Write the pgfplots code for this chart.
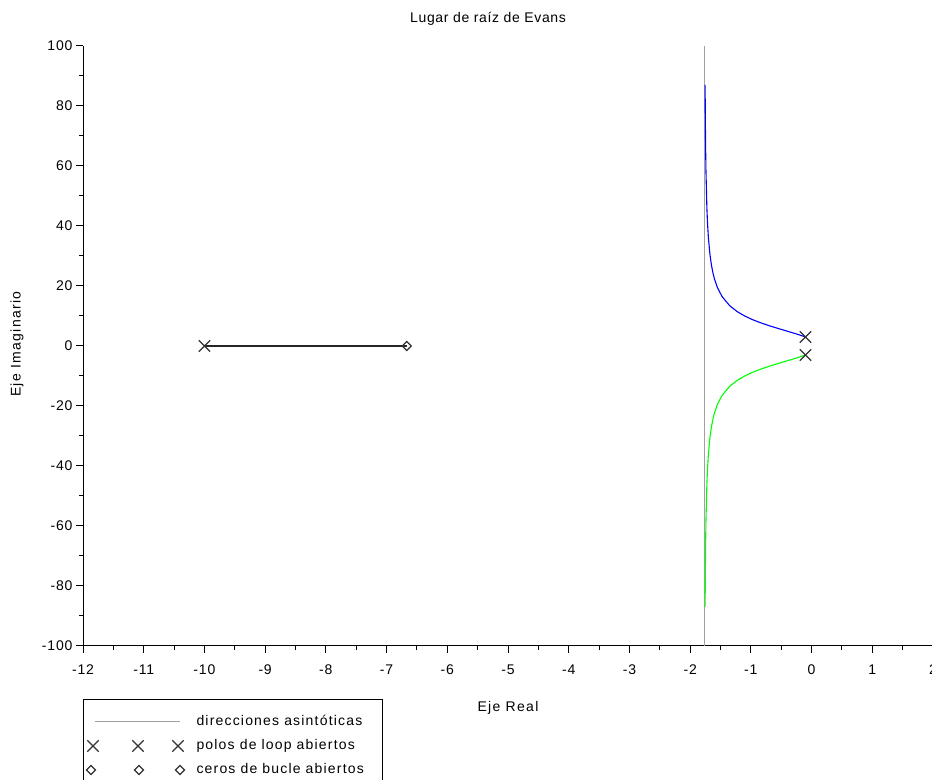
\documentclass[border=0pt]{standalone}
\usepackage{fontspec}
\setmainfont{Liberation Sans}
\usepackage{pgfplots}
\usepackage{pgfplotstable}
\pgfplotsset{compat=1.18}
\newfontfamily\lab[LetterSpace=9.5]{Liberation Sans}
\newfontfamily\tck[LetterSpace=6]{Liberation Sans}
\newfontfamily\ttl[LetterSpace=4.6]{Liberation Sans}
\newfontfamily\leg[LetterSpace=8.5]{Liberation Sans}
\definecolor{asym}{RGB}{160,160,160}
\definecolor{mk}{RGB}{50,50,50}
\definecolor{locblue}{RGB}{0,0,255}
\definecolor{locgreen}{RGB}{0,255,0}

\pgfplotstableread{
x y
-0.1 3.0
-0.15 3.356
-0.2 3.69
-0.25 4.013
-0.35 4.63
-0.475 5.38
-0.6 6.14
-0.725 6.94
-0.85 7.81
-0.975 8.80
-1.1 9.98
-1.225 11.45
-1.35 13.45
-1.475 16.5
-1.55 19.43
-1.6 22.37
-1.625 24.39
-1.65 27.02
-1.675 30.66
-1.7 36.21
-1.715 41.38
-1.725 46.33
-1.74 58.73
-1.745 65.7
-1.75 75.93
-1.7525 83.2
-1.754 87.0
}\upbranch

\pgfplotstableread{
x y
-0.1 -3.0
-0.15 -3.356
-0.2 -3.69
-0.25 -4.013
-0.35 -4.63
-0.475 -5.38
-0.6 -6.14
-0.725 -6.94
-0.85 -7.81
-0.975 -8.80
-1.1 -9.98
-1.225 -11.45
-1.35 -13.45
-1.475 -16.5
-1.55 -19.43
-1.6 -22.37
-1.625 -24.39
-1.65 -27.02
-1.675 -30.66
-1.7 -36.21
-1.715 -41.38
-1.725 -46.33
-1.74 -58.73
-1.745 -65.7
-1.75 -75.93
-1.7525 -83.2
-1.754 -87.0
}\lowbranch

\begin{document}
\begin{tikzpicture}[x=1bp,y=1bp]
\useasboundingbox (0,0) rectangle (932,780);
\begin{axis}[
  at={(83bp,134bp)}, anchor=south west,
  scale only axis, width=850bp, height=600bp,
  xmin=-12, xmax=2, ymin=-100, ymax=100,
  axis x line=bottom, axis y line=left,
  axis line style={-, line width=1bp, black},
  xtick distance=1, ytick distance=20,
  minor x tick num=1, minor y tick num=1,
  tick align=outside,
  major tick length=7bp, minor tick length=4bp,
  every tick/.style={black, line width=1bp},
  /pgf/number format/assume math mode=true,
  ticklabel style={font=\tck\fontsize{14bp}{16bp}\selectfont},
  xticklabel style={yshift=-8bp},
  title={Lugar de raíz de Evans},
  title style={font=\ttl\fontsize{14bp}{16bp}\selectfont, anchor=center, at={(axis description cs:0.4765,1)}, yshift=21bp},
  xlabel={Eje Real},
  xlabel style={font=\lab\fontsize{14bp}{16bp}\selectfont, anchor=center, at={(axis description cs:0.5,0)}, yshift=-62bp},
  ylabel={Eje Imaginario},
  ylabel style={font=\lab\fontsize{14bp}{16bp}\selectfont, anchor=center, at={(axis description cs:-0.0776,0.503)}},
  legend style={at={(axis description cs:0,-0.0883)}, anchor=north west,
    draw=black, line width=1bp, font=\leg\fontsize{14bp}{16bp}\selectfont,
    inner xsep=2bp, inner ysep=15bp, row sep=9bp,
    nodes={inner sep=1bp, text height=10bp, text depth=3bp}},
  legend cell align=left,
  clip=false,
]
\addplot[asym, line width=1bp,
  legend image code/.code={\path (-5bp,0bp) (104bp,0bp); \draw[asym, line width=1bp] (4bp,0bp) -- (89bp,0bp);}]
  coordinates {(-1.7667,-100) (-1.7667,100)};
\addlegendentry{direcciones asintóticas\hspace*{16bp}}

\addplot[locblue, line width=1.1bp, forget plot] table {\upbranch};
\addplot[locgreen, line width=1.1bp, forget plot] table {\lowbranch};
\addplot[black!85, line width=1.3bp, forget plot] coordinates {(-10,0) (-6.667,0)};

\addplot[only marks, mark=x, mark size=8bp, mk, mark options={line width=1.2bp},
  legend image code/.code={\path (-5bp,0bp) (104bp,0bp); \draw plot[only marks, mark=x, mark size=8bp, mark options={mk, line width=1.2bp}] coordinates {(2bp,0bp) (47bp,0bp) (87bp,0bp)};}]
  coordinates {(-10,0) (-0.1,3) (-0.1,-3)};
\addlegendentry{polos de loop abiertos}

\addplot[only marks, mark=square, mark size=3.2bp, mk, mark options={line width=1.2bp, rotate=45, fill=white},
  legend image code/.code={\path (-5bp,0bp) (104bp,0bp); \draw plot[only marks, mark=square, mark size=3.2bp, mark options={mk, line width=1.2bp, rotate=45}] coordinates {(0bp,0bp) (48bp,0bp) (89bp,0bp)};}]
  coordinates {(-6.667,0)};
\addlegendentry{ceros de bucle abiertos\hspace*{16bp}}
\end{axis}
\end{tikzpicture}
\end{document}
